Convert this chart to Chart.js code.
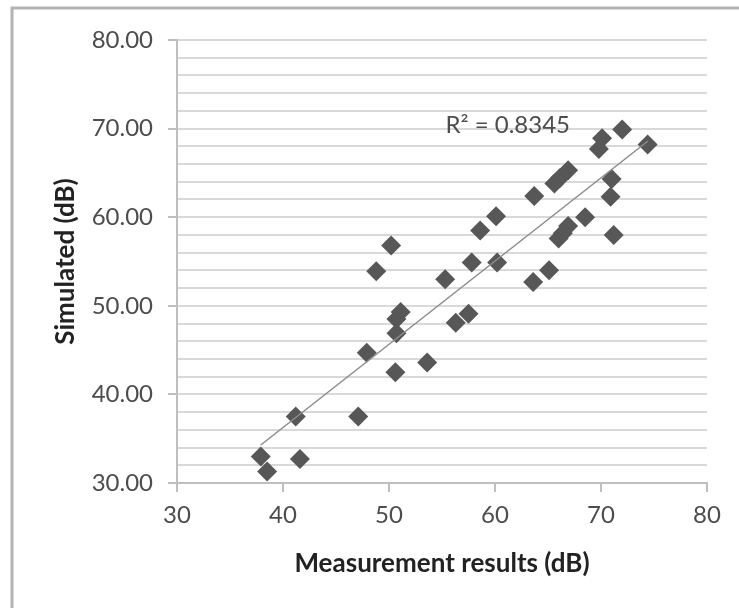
<!DOCTYPE html>
<html>
<head>
<meta charset="utf-8">
<script src="https://cdn.jsdelivr.net/npm/chart.js@4"></script>
<style>
  body { margin: 0; background: #fff; }
  canvas { display: block; }
</style>
</head>
<body>
<canvas id="chart" width="739" height="608"></canvas>
<script>
const measured = [
    37.9, 38.5, 41.2, 41.6, 47.1, 47.9, 48.8, 50.2, 51.1, 50.7,
    50.7, 50.6, 53.6, 55.3, 56.3, 57.5, 57.8, 58.6, 60.1, 60.2,
    63.7, 63.6, 65.1, 65.6, 66.1, 66.9, 66.0, 66.4, 66.9, 68.5,
    70.1, 69.8, 72.0, 74.4, 71.0, 70.9, 71.2
];
const simulated = [
    33.0, 31.3, 37.5, 32.7, 37.5, 44.7, 53.9, 56.8, 49.3, 48.5,
    46.9, 42.5, 43.6, 53.0, 48.1, 49.1, 54.9, 58.5, 60.1, 54.9,
    62.4, 52.7, 54.0, 63.8, 64.4, 65.3, 57.6, 58.2, 59.0, 60.0,
    68.9, 67.7, 69.9, 68.2, 64.3, 62.3, 58.0
];
const xTicks = [30, 40, 50, 60, 70, 80];
const yRange = [30, 80];
const r2Label = 'R\u00B2 = 0.8345';

const points = measured.map((x, i) => ({ x: x, y: simulated[i] }));

// linear trendline (least squares) over the data range
const n = measured.length;
const mx = measured.reduce((a, b) => a + b, 0) / n;
const my = simulated.reduce((a, b) => a + b, 0) / n;
let sxy = 0, sxx = 0;
for (let i = 0; i < n; i++) {
    sxy += (measured[i] - mx) * (simulated[i] - my);
    sxx += (measured[i] - mx) * (measured[i] - mx);
}
const slope = sxy / sxx;
const icpt = my - slope * mx;
const xMin = Math.min(...measured);
const xMax = Math.max(...measured);
const trend = [
    { x: xMin, y: icpt + slope * xMin },
    { x: xMax, y: icpt + slope * xMax }
];

const axisGray = '#bfbfbf';
const gridGray = '#d9d9d9';
const labelGray = '#4d4d4d';
const titleGray = '#222';

// white background, partial frame and the R² text
const decor = {
    id: 'decor',
    beforeDraw(chart) {
        const ctx = chart.ctx;
        ctx.save();
        ctx.fillStyle = '#fff';
        ctx.fillRect(0, 0, chart.width, chart.height);
        ctx.strokeStyle = '#b3b3b3';
        ctx.lineWidth = 3;
        ctx.beginPath();
        ctx.moveTo(chart.width, 8);
        ctx.lineTo(12, 8);
        ctx.lineTo(12, chart.height);
        ctx.stroke();
        ctx.restore();
    },
    afterDatasetsDraw(chart) {
        const ctx = chart.ctx;
        const xs = chart.scales.x, ys = chart.scales.y;
        ctx.save();
        ctx.font = '24px Lato';
        ctx.fillStyle = labelGray;
        ctx.textAlign = 'center';
        ctx.textBaseline = 'middle';
        ctx.fillText(r2Label, xs.getPixelForValue(61.2), ys.getPixelForValue(70.4));
        ctx.restore();
    }
};

const ctx = document.getElementById('chart').getContext('2d');
new Chart(ctx, {
    type: 'scatter',
    data: {
        datasets: [{
            label: 'Simulated',
            data: points,
            pointStyle: 'rectRot',
            pointRadius: 10,
            backgroundColor: '#575757',
            borderColor: '#575757',
            borderWidth: 0,
            order: 1
        }, {
            type: 'line',
            label: 'Trend',
            data: trend,
            borderColor: '#8c8c8c',
            borderWidth: 1.5,
            pointRadius: 0,
            fill: false,
            order: 0
        }]
    },
    options: {
        responsive: false,
        animation: false,
        layout: { padding: { left: 0, top: 40, right: 32, bottom: 0 } },
        plugins: {
            legend: { display: false },
            tooltip: { enabled: false }
        },
        scales: {
            x: {
                type: 'linear',
                min: xTicks[0],
                max: xTicks[xTicks.length - 1],
                afterBuildTicks: (scale) => { scale.ticks = xTicks.map(v => ({ value: v })); },
                afterFit: (scale) => { scale.height = 125; },
                grid: {
                    drawOnChartArea: false,
                    tickLength: 9,
                    tickColor: axisGray,
                    lineWidth: 2
                },
                border: { color: axisGray, width: 2 },
                ticks: {
                    padding: 9,
                    color: labelGray,
                    font: { family: 'Lato', size: 24 }
                },
                title: {
                    display: true,
                    text: 'Measurement results (dB)',
                    color: titleGray,
                    font: { family: 'Lato', size: 26, weight: 'bold' },
                    padding: { top: 0, bottom: 29 }
                }
            },
            y: {
                min: yRange[0],
                max: yRange[1],
                afterFit: (scale) => { scale.width = 177; },
                grid: {
                    color: gridGray,
                    lineWidth: 2,
                    tickLength: 9,
                    tickColor: (c) => (c.tick && c.tick.value % 10 === 0) ? axisGray : 'rgba(0,0,0,0)'
                },
                border: { color: axisGray, width: 2 },
                ticks: {
                    stepSize: 2,
                    autoSkip: false,
                    padding: 15,
                    color: labelGray,
                    font: { family: 'Lato', size: 24 },
                    callback: (v) => v % 10 === 0 ? v.toFixed(2) : ''
                },
                title: {
                    display: true,
                    text: 'Simulated (dB)',
                    color: titleGray,
                    font: { family: 'Lato', size: 26, weight: 'bold' },
                    padding: { top: 50, bottom: 0 }
                }
            }
        }
    },
    plugins: [decor]
});
</script>
</body>
</html>
